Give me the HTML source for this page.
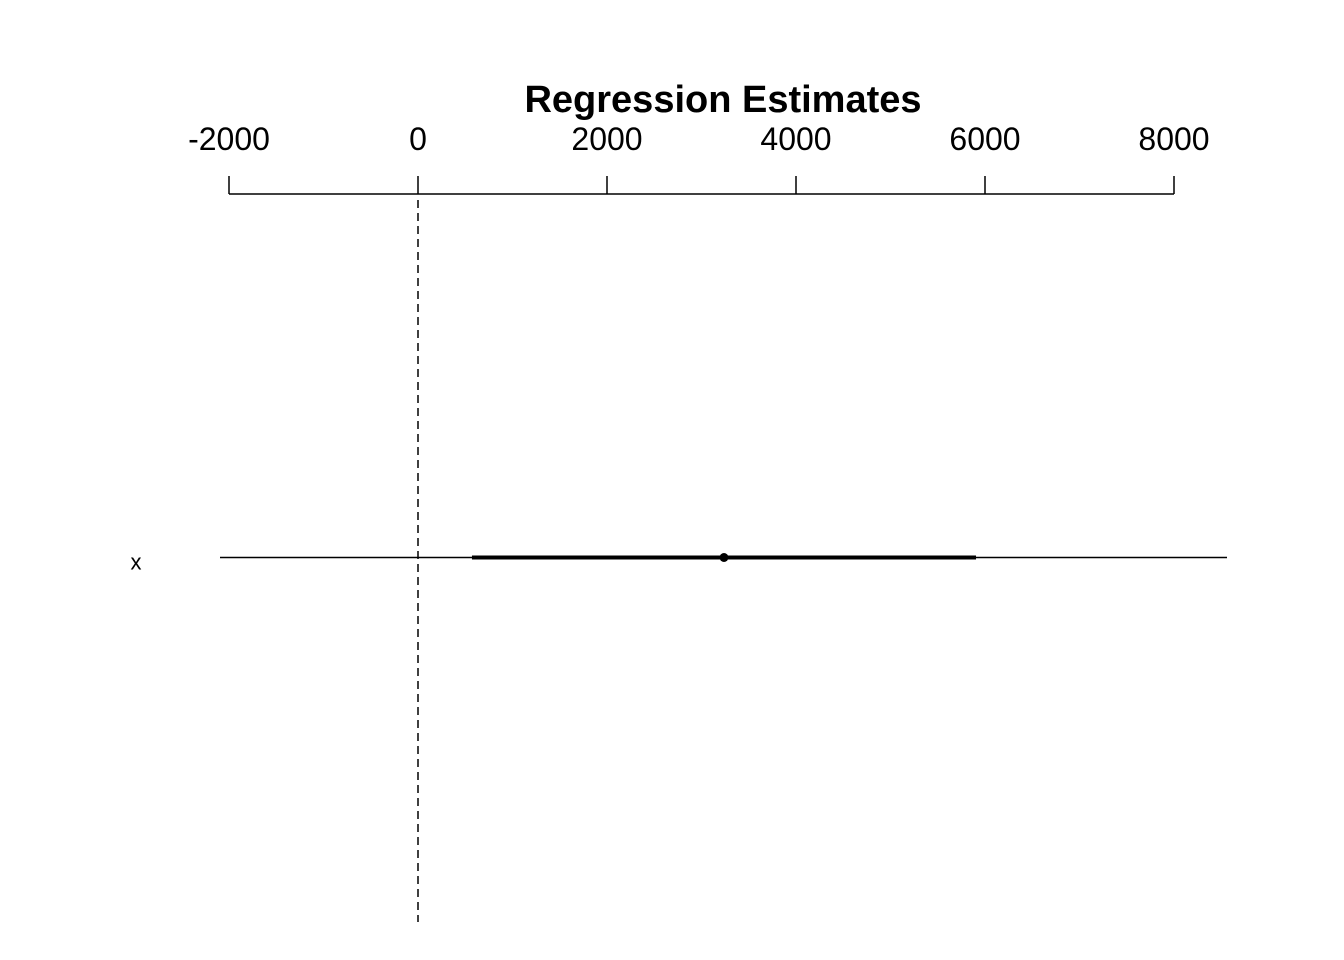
<!DOCTYPE html>
<html><head><meta charset="utf-8"><style>
html,body{margin:0;padding:0;background:#fff;}
svg{display:block;font-family:"Liberation Sans",Arial,sans-serif;}
</style></head><body>
<svg id="chart" width="1344" height="960">
<text x="723" y="112" text-anchor="middle" font-size="38" font-weight="bold">Regression Estimates</text>
<g id="axis"></g>
<g id="marks"></g>
</svg>
<script>
const ticks = [-2000, 0, 2000, 4000, 6000, 8000];
const tickLabels = ["-2000", "0", "2000", "4000", "6000", "8000"];
const variables = ["x"];
const estimates = [3238];
const stdErrors = [2667];

const NS = "http://www.w3.org/2000/svg";
function xs(v){ return 418 + v * (189/2000); }
function mk(tag, attrs, parent){
  const e = document.createElementNS(NS, tag);
  for (const k in attrs) e.setAttribute(k, attrs[k]);
  parent.appendChild(e); return e;
}
const axis = document.getElementById("axis");
const marks = document.getElementById("marks");
const axLine = mk("line", {x1: xs(ticks[0]), x2: xs(ticks[ticks.length-1]), y1: 194, y2: 194, stroke: "#000", "stroke-width": 1.5}, axis);


ticks.forEach((t, i) => {
  const tk = mk("line", {x1: xs(t), x2: xs(t), y1: 176, y2: 194, stroke: "#000", "stroke-width": 1.5}, axis);
  
  
  const lb = mk("text", {x: xs(t), y: 150, "text-anchor": "middle", "font-size": 32}, axis);
  lb.textContent = tickLabels[i];
  
  
});
const zero = mk("line", {x1: xs(0), x2: xs(0), y1: 200, y2: 922, stroke: "#000", "stroke-width": 1.5, "stroke-dasharray": "8,5"}, marks);


const clipL = 220, clipR = 1227;
variables.forEach((v, i) => {
  const y = 557.5 + i * 60;
  const lab = mk("text", {x: 136, y: y + 12, "text-anchor": "middle", "font-size": 22}, marks);
  lab.textContent = v;
  
  
  const e = estimates[i], s = stdErrors[i];
  const thin = mk("line", {x1: Math.max(clipL, xs(e - 2*s)), x2: Math.min(clipR, xs(e + 2*s)), y1: y, y2: y, stroke: "#000", "stroke-width": 1.5}, marks);
  
  
  const thick = mk("line", {x1: xs(e - s), x2: xs(e + s), y1: y, y2: y, stroke: "#000", "stroke-width": 4}, marks);
  
  
  const pt = mk("circle", {cx: xs(e), cy: y, r: 4.5, fill: "#000"}, marks);
  
  
});
</script>
</body></html>
